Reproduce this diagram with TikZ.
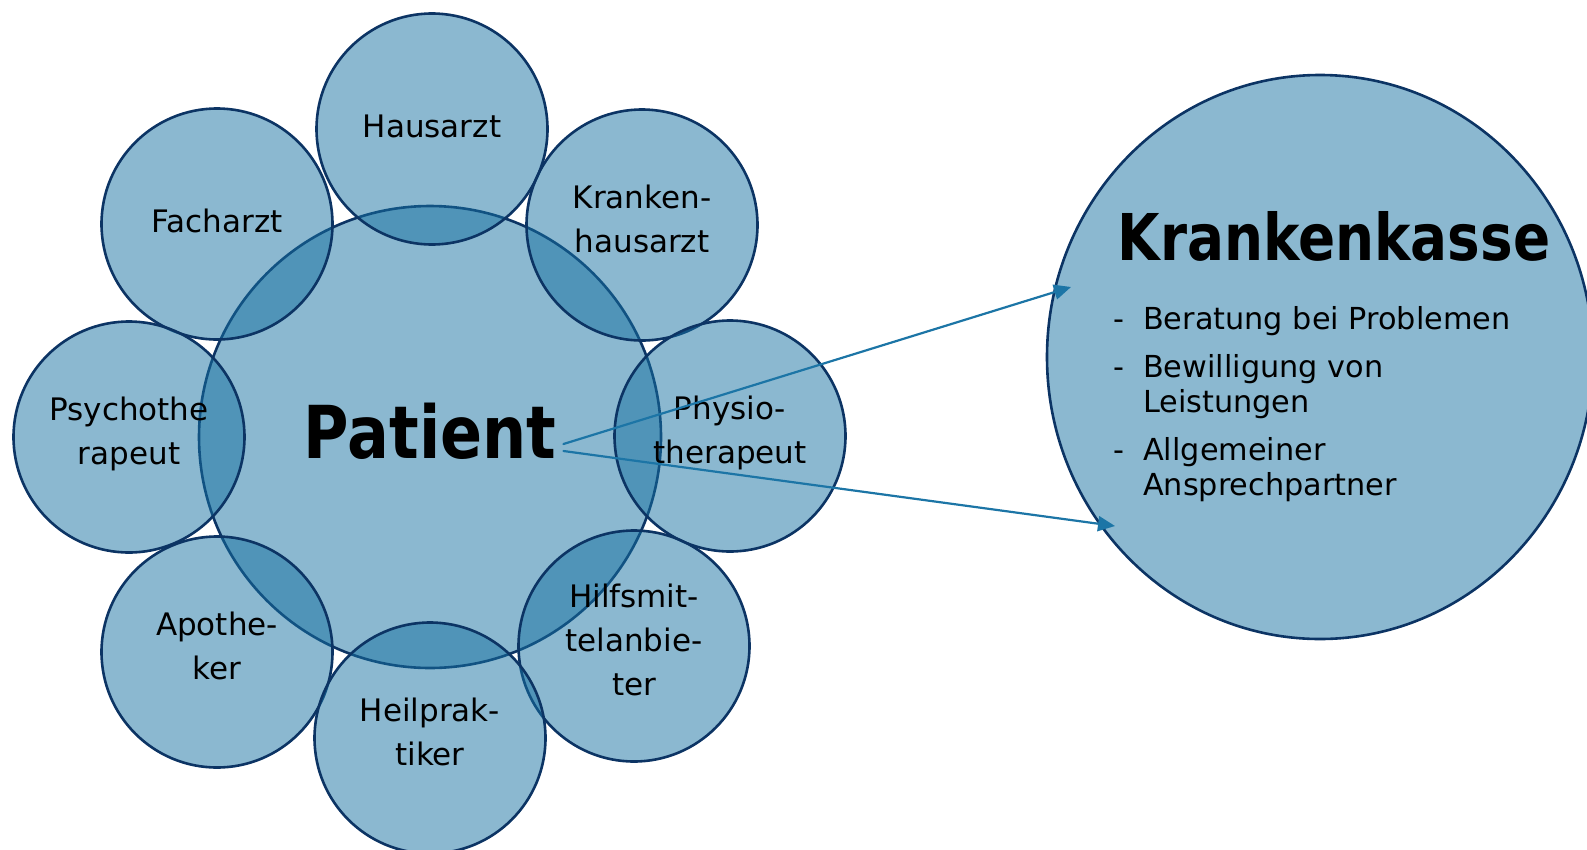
\documentclass[tikz,border=0pt]{standalone}
\usepackage{fontspec}
\setmainfont{DejaVu Sans}
\newfontfamily\headfont[FakeStretch=0.85]{DejaVu Sans Bold}
\usetikzlibrary{arrows.meta,shapes.geometric}
\definecolor{kkfill}{RGB}{23,113,161}
\definecolor{kkline}{RGB}{12,52,100}
\definecolor{kkarrow}{RGB}{28,117,166}
\begin{document}
\begin{tikzpicture}[x=1pt, y=-1pt, line join=round, line cap=round, >={Triangle[length=17pt,width=15pt]},
  bubble/.style={circle, draw=kkline, line width=2.6pt, fill=kkfill, fill opacity=0.5, text opacity=1, inner sep=0pt},
  sat/.style={bubble, minimum size=231pt, align=center, font=\fontsize{31}{44}\selectfont,
    execute at begin node=\strut, execute at end node=\strut},
  link/.style={->, draw=kkarrow, fill=kkarrow, line width=2.2pt}]
\useasboundingbox (0,0) rectangle (1587,849);
\node[bubble, minimum size=462pt] (pat) at (430,437) {};
\foreach \nm/\x/\y/\txt in {haus/432/129/Hausarzt, fach/217/224/Facharzt, khaus/642/225/{Kranken-\\hausarzt},
    psych/129/437/{Psychothe\\rapeut}, physio/730/436/{Physio-\\therapeut}, hilf/634/646/{Hilfsmit-\\telanbie-\\ter},
    apo/217/652/{Apothe-\\ker}, heil/430/738/{Heilprak-\\tiker}}
  \node[sat] (\nm) at (\x,\y) {\txt};
\node[font=\headfont\fontsize{73}{80}\selectfont, anchor=base, inner sep=0pt] (ptext) at (430,458) {Patient};
\node[bubble, ellipse, minimum width=546pt, minimum height=564pt] (kasse) at (1320,357) {};
\node[font=\headfont\fontsize{64.5}{70}\selectfont, anchor=base, inner sep=0pt] (ktitle) at (1334,260) {Krankenkasse};
\node[font=\fontsize{30.3}{35}\selectfont, anchor=base west, inner sep=0pt] (klist) at (1113,329)
  {\begin{tabular}[t]{@{}p{30pt}@{}l@{}}
   -&Beratung bei Problemen\\[13pt]
   -&Bewilligung von\\ &Leistungen\\[13pt]
   -&Allgemeiner\\ &Ansprechpartner
   \end{tabular}};
\coordinate (up) at (1071,287);
\coordinate (lo) at (1115,526);
\draw[link] ([xshift=7pt,yshift=14pt]ptext.base east) -- (up);
\draw[link] ([xshift=7pt,yshift=7pt]ptext.base east) -- (lo);
\end{tikzpicture}
\end{document}
